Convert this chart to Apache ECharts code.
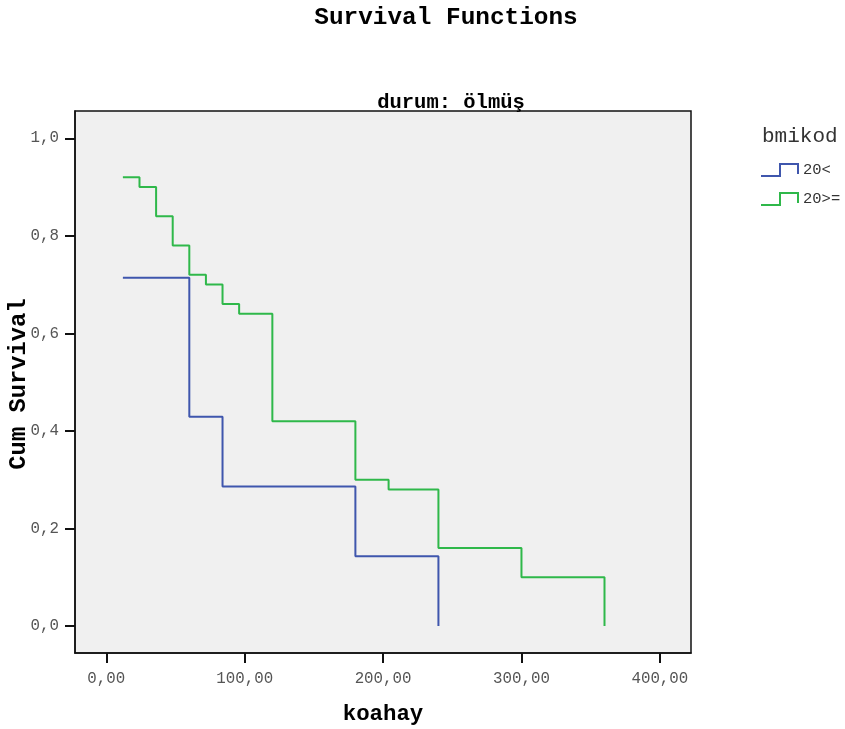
<!DOCTYPE html>
<html>
<head>
<meta charset="utf-8">
<script src="https://cdn.jsdelivr.net/npm/echarts@6/dist/echarts.min.js"></script>
<style>
  html, body { margin: 0; padding: 0; background: #fff; }
  #main { width: 845px; height: 729px; }
</style>
</head>
<body>
<div id="main"></div>
<script>
// survival steps: [koahay, cum survival]
var groupNames = ["20<", "20>="];
var lowTimes = [12, 60, 84, 180, 240];
var lowSurv = [0.714, 0.429, 0.286, 0.143, 0];
var highTimes = [12, 24, 36, 48, 60, 72, 84, 96, 120, 180, 204, 240, 300, 360];
var highSurv = [0.92, 0.90, 0.84, 0.78, 0.72, 0.70, 0.66, 0.64, 0.42, 0.30, 0.28, 0.16, 0.10, 0];
var xTicks = [0, 100, 200, 300, 400];
var yTicks = [0, 0.2, 0.4, 0.6, 0.8, 1.0];
var colors = ["#3f56ad", "#2fb84a"];

var FONT = "'Liberation Mono', 'Courier New', monospace";

function pairs(xs, ys) {
  var out = [];
  for (var i = 0; i < xs.length; i++) { out.push([xs[i], ys[i]]); }
  return out;
}

var stepIcon = "path://M0,12 L19,12 L19,0 L37,0 L37,10";

var chart = echarts.init(document.getElementById("main"));
chart.setOption({
  animation: false,
  backgroundColor: "#ffffff",
  title: [
    { text: "Survival Functions", left: 441, top: 1, textAlign: "center",
      textStyle: { fontFamily: FONT, fontWeight: "bold", fontSize: 24.4, color: "#000" } },
    { text: "durum: ölmüş", left: 446, top: 87, textAlign: "center",
      textStyle: { fontFamily: FONT, fontWeight: "bold", fontSize: 20.5, color: "#000" } }
  ],
  graphic: [
    { type: "text", left: 762, top: 126,
      style: { text: "bmikod", fontFamily: FONT, fontSize: 21, fill: "#333" } },
    // y axis title, placed by hand so the labels do not push it off the page
    { type: "text", x: 19, y: 384, rotation: Math.PI / 2,
      style: { text: "Cum Survival", fontFamily: FONT, fontWeight: "bold", fontSize: 23.8,
        fill: "#000", align: "center", verticalAlign: "middle" } }
  ],
  legend: {
    orient: "vertical",
    left: 760, top: 162, padding: 0,
    itemWidth: 37, itemHeight: 12, itemGap: 13,
    icon: stepIcon,
    textStyle: { fontFamily: FONT, fontSize: 15.5, color: "#333", padding: [0, 0, 0, 0] },
    data: [
      { name: groupNames[0], itemStyle: { color: "rgba(0,0,0,0)", borderColor: colors[0], borderWidth: 2 } },
      { name: groupNames[1], itemStyle: { color: "rgba(0,0,0,0)", borderColor: colors[1], borderWidth: 2 } }
    ]
  },
  grid: {
    left: 75, top: 111, right: 154, bottom: 76,
    outerBoundsMode: "none", containLabel: false,
    show: true, backgroundColor: "#f0f0f0", borderColor: "#111", borderWidth: 1.5
  },
  xAxis: {
    type: "value", min: -22.6, max: 422.5,
    name: "koahay", nameLocation: "middle", nameGap: 50,
    nameTextStyle: { fontFamily: FONT, fontWeight: "bold", fontSize: 22.4, color: "#000" },
    splitLine: { show: false },
    axisLine: { show: true, onZero: false, lineStyle: { color: "#111", width: 1.5 } },
    axisTick: { show: true, customValues: xTicks, length: 10, lineStyle: { color: "#111", width: 2 } },
    axisLabel: { customValues: xTicks, margin: 18, fontFamily: FONT, fontSize: 15.8, color: "#555",
      formatter: function (v) { return v.toFixed(2).replace(".", ","); } }
  },
  yAxis: {
    type: "value", min: -0.0554, max: 1.056,
    splitLine: { show: false },
    axisLine: { show: true, onZero: false, lineStyle: { color: "#111", width: 1.5 } },
    axisTick: { show: true, customValues: yTicks, length: 10, lineStyle: { color: "#111", width: 2 } },
    axisLabel: { customValues: yTicks, margin: 16, fontFamily: FONT, fontSize: 15.8, color: "#555",
      formatter: function (v) { return v.toFixed(1).replace(".", ","); } }
  },
  series: [
    { name: groupNames[0], type: "line", step: "end", showSymbol: false,
      data: pairs(lowTimes, lowSurv), color: colors[0],
      lineStyle: { color: colors[0], width: 2 } },
    { name: groupNames[1], type: "line", step: "end", showSymbol: false,
      data: pairs(highTimes, highSurv), color: colors[1],
      lineStyle: { color: colors[1], width: 2 } }
  ]
});
</script>
</body>
</html>
